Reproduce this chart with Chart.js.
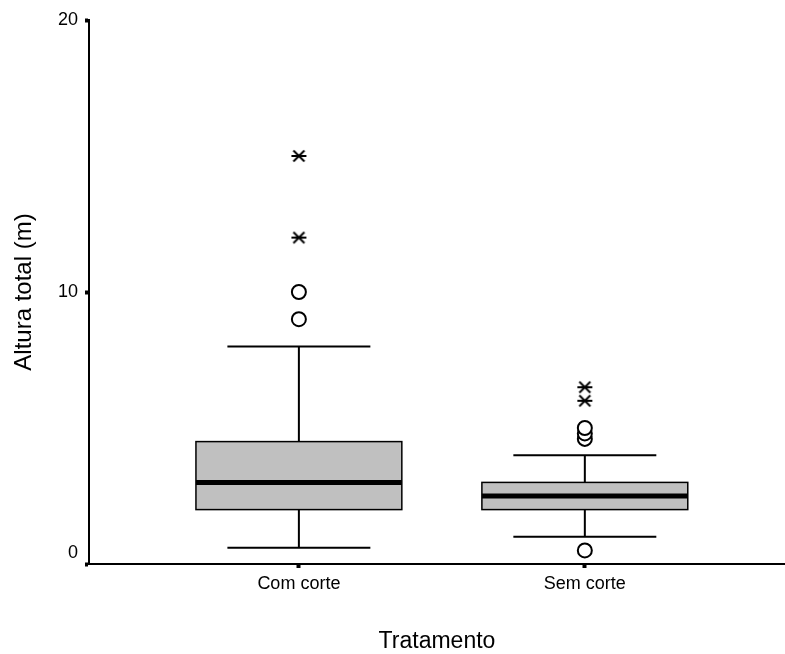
<!DOCTYPE html>
<html>
<head>
<meta charset="utf-8">
<script src="https://cdn.jsdelivr.net/npm/chart.js@4/dist/chart.umd.min.js"></script>
<style>
  body { margin: 0; background: #fff; }
  canvas { display: block; }
</style>
</head>
<body>
<canvas id="chart" width="785" height="654"></canvas>
<script>
const categories = ['Com corte', 'Sem corte'];
const whiskerLow = [0.6, 1.0];
const q1 = [2.0, 2.0];
const median = [3.0, 2.5];
const q3 = [4.5, 3.0];
const whiskerHigh = [8.0, 4.0];
const outliers = [[9, 10], [0.5, 4.6, 4.8, 5.0]];
const extremes = [[12, 15], [6.0, 6.5]];
const yTicks = [0, 10, 20];

const FONT = "'Liberation Sans', Arial, sans-serif";

// asterisk marker for extreme values
const makeStar = () => {
    const c = document.createElement('canvas');
    c.width = 17; c.height = 14;
    const ctx = c.getContext('2d');
    ctx.strokeStyle = '#000';
    ctx.lineWidth = 2;
    ctx.beginPath();
    ctx.moveTo(1, 7); ctx.lineTo(16, 7);
    ctx.moveTo(3, 1.5); ctx.lineTo(14, 12.5);
    ctx.moveTo(3, 12.5); ctx.lineTo(14, 1.5);
    ctx.stroke();
    return c;
}

const toPoints = groups => groups.flatMap((vals, i) => vals.map(v => ({ x: i + 1, y: v })));

const boxPlugin = {
    id: 'boxes',
    beforeDatasetsDraw(chart) {
        const { ctx, scales: { x, y } } = chart;
        const half = 0.36, cap = 0.25;
        ctx.save();
        categories.forEach((c, i) => {
            const cx = x.getPixelForValue(i + 1);
            const l = x.getPixelForValue(i + 1 - half), r = x.getPixelForValue(i + 1 + half);
            const cl = x.getPixelForValue(i + 1 - cap), cr = x.getPixelForValue(i + 1 + cap);
            const yq1 = y.getPixelForValue(q1[i]), yq3 = y.getPixelForValue(q3[i]);
            const ylo = y.getPixelForValue(whiskerLow[i]), yhi = y.getPixelForValue(whiskerHigh[i]);
            const ymed = y.getPixelForValue(median[i]);
            ctx.strokeStyle = '#000';
            ctx.lineWidth = 2;
            ctx.beginPath();
            ctx.moveTo(cx, yhi); ctx.lineTo(cx, yq3);
            ctx.moveTo(cx, yq1); ctx.lineTo(cx, ylo);
            ctx.moveTo(cl, yhi); ctx.lineTo(cr, yhi);
            ctx.moveTo(cl, ylo); ctx.lineTo(cr, ylo);
            ctx.stroke();
            ctx.fillStyle = '#c0c0c0';
            ctx.fillRect(l, yq3, r - l, yq1 - yq3);
            ctx.lineWidth = 1.5;
            ctx.strokeRect(l, yq3, r - l, yq1 - yq3);
            ctx.lineWidth = 5;
            ctx.beginPath();
            ctx.moveTo(l, ymed); ctx.lineTo(r, ymed);
            ctx.stroke();
        });
        ctx.restore();
    }
}

new Chart(document.getElementById('chart'), {
    type: 'scatter',
    data: {
        datasets: [
            {
                label: 'outliers',
                data: toPoints(outliers),
                pointStyle: 'circle',
                radius: 7,
                borderWidth: 2,
                borderColor: '#000',
                backgroundColor: '#fff'
            },
            {
                label: 'extremes',
                data: toPoints(extremes),
                pointStyle: makeStar(),
                radius: 8
            }
        ]
    },
    options: {
        responsive: false,
        animation: false,
        layout: { autoPadding: false, padding: { top: 20, right: 0, left: 0, bottom: 0 } },
        plugins: { legend: { display: false }, tooltip: { enabled: false } },
        scales: {
            x: {
                type: 'linear',
                min: 0.266,
                max: 2.7,
                afterBuildTicks: s => { s.ticks = categories.map((c, i) => ({ value: i + 1 })) },
                afterFit: s => { s.height = 90 },
                grid: { drawOnChartArea: false, tickLength: 4, tickWidth: 4, tickColor: '#000' },
                border: { display: true, color: '#000', width: 2 },
                ticks: {
                    color: '#000',
                    padding: 5,
                    font: { family: FONT, size: 18 },
                    callback: v => categories[v - 1]
                },
                title: {
                    display: true,
                    text: 'Tratamento',
                    color: '#000',
                    font: { family: FONT, size: 23, lineHeight: 1 },
                    padding: { top: 0, bottom: 1 }
                }
            },
            y: {
                min: 0,
                max: 20,
                afterBuildTicks: s => { s.ticks = yTicks.map(v => ({ value: v })) },
                afterFit: s => { s.width = 89 },
                grid: { drawOnChartArea: false, tickLength: 4, tickWidth: 4, tickColor: '#000' },
                border: { display: true, color: '#000', width: 2 },
                ticks: {
                    color: '#000',
                    padding: 7,
                    font: { family: FONT, size: 18 },
                    callback: v => v === 0 ? ['0', ''] : String(v)
                },
                title: {
                    display: true,
                    text: 'Altura total (m)',
                    color: '#000',
                    font: { family: FONT, size: 24, lineHeight: 1 },
                    padding: { top: 12, bottom: 0 }
                }
            }
        }
    },
    plugins: [boxPlugin]
});
</script>
</body>
</html>
